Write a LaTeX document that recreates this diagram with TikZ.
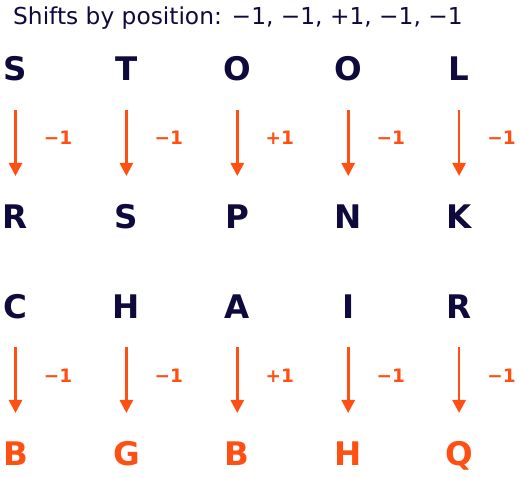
\documentclass[tikz,border=0pt]{standalone}
\usepackage{fontspec}
\setmainfont{DejaVu Sans}
\usetikzlibrary{arrows.meta}
\definecolor{navy}{RGB}{15,10,60}
\definecolor{orng}{RGB}{255,80,20}
\begin{document}
\begin{tikzpicture}[x=1pt,y=1pt,
  letter/.style={anchor=base,inner sep=0pt,font=\fontsize{32.5}{36}\selectfont\bfseries,text=navy},
  result/.style={letter,text=orng},
  shiftlbl/.style={inner sep=0pt,font=\fontsize{18.5}{20}\selectfont\bfseries,text=orng},
  shiftarrow/.style={draw=orng,line width=2.7pt,-{Triangle[length=13pt,width=13pt]}},
  title/.style={anchor=base west,inner sep=0pt,font=\fontsize{23.3}{26}\selectfont,text=navy}]
\useasboundingbox (0,0) rectangle (520,-478);
\node[title] (ttl) at (13,-25) {Shifts by position: −1, −1, +1, −1, −1};
\def\colx{{15.5,126.4,237.3,348.2,459.1}}
% row 1
\foreach \i/\a/\b/\s in {0/S/R/−1,1/T/S/−1,2/O/P/+1,3/O/N/−1,4/L/K/−1}{
  \pgfmathsetmacro\xx{\colx[\i]}
  \node[letter] (t\i) at (\xx,-81) {\a};
  \node[letter] (m\i) at (\xx,-229) {\b};
  \coordinate (as\i) at (\xx,-110);
  \coordinate (ae\i) at (\xx,-176);
  \draw[shiftarrow] (as\i) -- (ae\i);
  \node[shiftlbl] (l\i) at (\xx+42.5,-138) {\s};
}
% row 2
\foreach \i/\a/\b/\s in {0/C/B/−1,1/H/G/−1,2/A/B/+1,3/I/H/−1,4/R/Q/−1}{
  \pgfmathsetmacro\xx{\colx[\i]}
  \node[letter] (c\i) at (\xx,-319) {\a};
  \node[result] (r\i) at (\xx,-466) {\b};
  \coordinate (bs\i) at (\xx,-347);
  \coordinate (be\i) at (\xx,-413);
  \draw[shiftarrow] (bs\i) -- (be\i);
  \node[shiftlbl] (k\i) at (\xx+42.5,-376) {\s};
}
\end{tikzpicture}
\end{document}
